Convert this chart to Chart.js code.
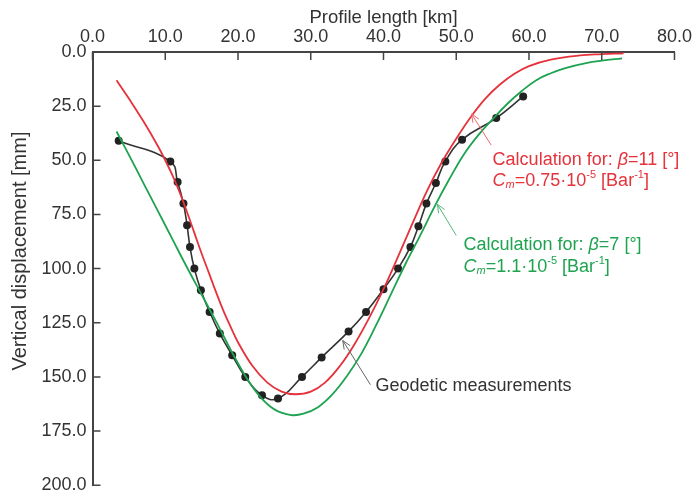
<!DOCTYPE html>
<html>
<head>
<meta charset="utf-8">
<script src="https://cdn.jsdelivr.net/npm/chart.js@4.4.0/dist/chart.umd.min.js"></script>
<style>
  body { margin: 0; background: #fff; }
</style>
</head>
<body>
<canvas id="myChart" width="696" height="502"></canvas>
<script>
// geodetic measurements (km, mm)
var geo_x = [3.6, 10.7, 11.7, 12.5, 13.0, 13.4, 14.0, 14.9, 16.1, 17.5, 19.2, 21.0, 23.3, 25.5, 28.8, 31.5, 35.2, 37.6, 40.0, 42.0, 43.7, 44.8, 45.9, 47.2, 48.5, 50.8, 55.5, 59.2];
var geo_y = [41, 50.5, 60, 70, 80, 90, 100, 110, 120, 130, 140, 150, 158.5, 160, 150, 141, 129, 120, 109.5, 100, 90, 80.5, 70, 60.5, 50.5, 40.5, 30.5, 20.5];

// calculation beta=11
var red_x = [3.3, 5, 7, 9, 10, 11, 12, 13, 14, 15, 16, 17, 18, 19, 20, 22, 24, 26, 27.9, 30, 32, 34, 36, 38, 40, 42, 44, 46, 48, 50, 52, 54, 56, 58, 60, 63, 67, 70, 73];
var red_y = [13, 21.5, 32, 43.5, 50, 57, 65, 74, 83.5, 93, 102, 111, 119.5, 127, 134, 145, 152.5, 156.8, 158, 156.8, 152.5, 145, 135, 123, 109.5, 94.5, 79, 64, 51, 40, 30, 21.5, 15, 10, 6.5, 3.5, 1.6, 1, 0.6];

// calculation beta=7
var green_x = [3.3, 5, 7, 9, 11, 13, 15, 17, 19, 21, 23, 25, 27.3, 29, 31, 33, 35, 37, 39, 41, 43, 45, 47, 49, 51, 53, 55, 57, 59, 61, 63, 65, 68, 70, 72.8];
var green_y = [36.7, 47.5, 60.5, 73.5, 86.5, 99.5, 112, 124.5, 137.5, 149.5, 159, 165, 167.6, 167, 164, 158, 149.5, 139, 126, 112, 98, 85, 71.5, 59, 47.5, 38.5, 31, 24, 18, 13, 9.8, 7.4, 5, 4, 2.9];

var red = '#e5323b';
var green = '#1ea350';
var axis_color = '#444444';
var text_color = '#333333';
var font_family = "'Liberation Sans', Arial, sans-serif";

var red_label_1 = [['Calculation for: ', ''], ['β', 'i'], ['=11 [°]', '']];
var red_label_2 = [['C', 'i'], ['m', 'sub'], ['=0.75·10', ''], ['-5', 'sup'], [' [Bar', ''], ['-1', 'sup'], [']', '']];
var green_label_1 = [['Calculation for: ', ''], ['β', 'i'], ['=7 [°]', '']];
var green_label_2 = [['C', 'i'], ['m', 'sub'], ['=1.1·10', ''], ['-5', 'sup'], [' [Bar', ''], ['-1', 'sup'], [']', '']];

function toPoints(xs, ys) {
    let pts = []
    for (let i in xs) {
        pts.push({x: xs[i], y: ys[i]})
    }
    return pts
}

function drawRich(ctx, segs, x, y, color) {
    let cx = x
    ctx.fillStyle = color
    ctx.textBaseline = 'middle'
    ctx.textAlign = 'left'
    for (let s of segs) {
        let small = s[1] == 'sub' || s[1] == 'sup'
        let italic = s[1] == 'i' || s[1] == 'sub'
        ctx.font = (italic ? 'italic ' : '') + (small ? 11 : 18) + 'px ' + font_family
        let dy = s[1] == 'sup' ? -6 : (s[1] == 'sub' ? 4 : 0)
        ctx.fillText(s[0], cx, y + dy)
        cx += ctx.measureText(s[0]).width
    }
}

function drawArrow(ctx, x1, y1, x2, y2, color) {
    // from tail (x1,y1) to tip (x2,y2), open head
    ctx.strokeStyle = color
    ctx.lineWidth = 1
    ctx.beginPath()
    ctx.moveTo(x1, y1)
    ctx.lineTo(x2, y2)
    let a = Math.atan2(y1 - y2, x1 - x2)
    let len = 9
    ctx.moveTo(x2 + len * Math.cos(a + 0.4), y2 + len * Math.sin(a + 0.4))
    ctx.lineTo(x2, y2)
    ctx.lineTo(x2 + len * Math.cos(a - 0.4), y2 + len * Math.sin(a - 0.4))
    ctx.stroke()
}

var extras = {
    id: 'extras',
    afterDraw(chart) {
        const ctx = chart.ctx
        const x = chart.scales.x
        const y = chart.scales.y
        const area = chart.chartArea
        ctx.save()

        // inward tick marks
        ctx.strokeStyle = axis_color
        ctx.lineWidth = 1.5
        ctx.beginPath()
        x.ticks.forEach(t => {
            let px = x.getPixelForValue(t.value)
            ctx.moveTo(px, area.top)
            ctx.lineTo(px, area.top + 8)
        })
        y.ticks.forEach(t => {
            let py = y.getPixelForValue(t.value)
            ctx.moveTo(area.left, py)
            ctx.lineTo(area.left + 8, py)
        })
        ctx.stroke()

        // y axis title
        ctx.translate(20, 251)
        ctx.rotate(-Math.PI / 2)
        ctx.font = '20px ' + font_family
        ctx.fillStyle = text_color
        ctx.textAlign = 'center'
        ctx.textBaseline = 'middle'
        ctx.fillText('Vertical displacement [mm]', 0, 0)
        ctx.setTransform(1, 0, 0, 1, 0, 0)

        // arrows
        drawArrow(ctx, x.getPixelForValue(54.8), y.getPixelForValue(43.0), x.getPixelForValue(52.1), y.getPixelForValue(28.6), '#ec6a70')
        drawArrow(ctx, x.getPixelForValue(50.0), y.getPixelForValue(84.7), x.getPixelForValue(47.4), y.getPixelForValue(70.3), '#4fb878')
        drawArrow(ctx, x.getPixelForValue(38.2), y.getPixelForValue(153.6), x.getPixelForValue(34.4), y.getPixelForValue(133.2), '#666666')

        // labels
        drawRich(ctx, red_label_1, x.getPixelForValue(55.0), y.getPixelForValue(50), red)
        drawRich(ctx, red_label_2, x.getPixelForValue(55.0), y.getPixelForValue(59.7), red)
        drawRich(ctx, green_label_1, x.getPixelForValue(51.0), y.getPixelForValue(89.2), green)
        drawRich(ctx, green_label_2, x.getPixelForValue(51.0), y.getPixelForValue(99.1), green)
        drawRich(ctx, [['Geodetic measurements', '']], x.getPixelForValue(38.9), y.getPixelForValue(154.4), text_color)

        ctx.restore()
    }
};

var ctx = document.getElementById('myChart').getContext('2d');
var myChart = new Chart(ctx, {
    type: 'line',
    data: {
        datasets: [
        {
            label: 'Calculation for: β=11 [°]',
            data: toPoints(red_x, red_y),
            borderColor: red,
            borderWidth: 1.8,
            pointRadius: 0,
            fill: false,
            tension: 0.4
        },
        {
            label: 'Calculation for: β=7 [°]',
            data: toPoints(green_x, green_y),
            borderColor: green,
            borderWidth: 1.8,
            pointRadius: 0,
            fill: false,
            tension: 0.4
        },
        {
            label: 'Geodetic measurements',
            data: toPoints(geo_x, geo_y),
            borderColor: '#333333',
            backgroundColor: '#222222',
            borderWidth: 1.6,
            pointRadius: 4,
            pointBorderWidth: 0,
            fill: false,
            tension: 0.45
        }]
    },
    options: {
        responsive: false,
        animation: false,
        layout: { padding: { left: 0, right: 19, top: 0, bottom: 10 } },
        plugins: {
            legend: { display: false },
            tooltip: { enabled: false }
        },
        scales: {
            x: {
                type: 'linear',
                position: 'top',
                min: 0,
                max: 80,
                ticks: {
                    stepSize: 10,
                    padding: 4,
                    color: text_color,
                    font: { family: font_family, size: 18 },
                    callback: v => v.toFixed(1)
                },
                grid: { display: false, drawTicks: false },
                border: { color: axis_color, width: 2 },
                title: {
                    display: true,
                    text: 'Profile length [km]',
                    color: text_color,
                    font: { family: font_family, size: 18.5 },
                    padding: { top: 7, bottom: 0 }
                },
                afterFit: s => { s.height = 52 }
            },
            y: {
                type: 'linear',
                reverse: true,
                min: 0,
                max: 200,
                ticks: {
                    stepSize: 25,
                    padding: 6,
                    color: text_color,
                    font: { family: font_family, size: 18 },
                    callback: v => v.toFixed(1)
                },
                grid: { display: false, drawTicks: false },
                border: { color: axis_color, width: 2 },
                afterFit: s => { s.width = 92.5 }
            }
        }
    },
    plugins: [extras]
});
</script>
</body>
</html>
